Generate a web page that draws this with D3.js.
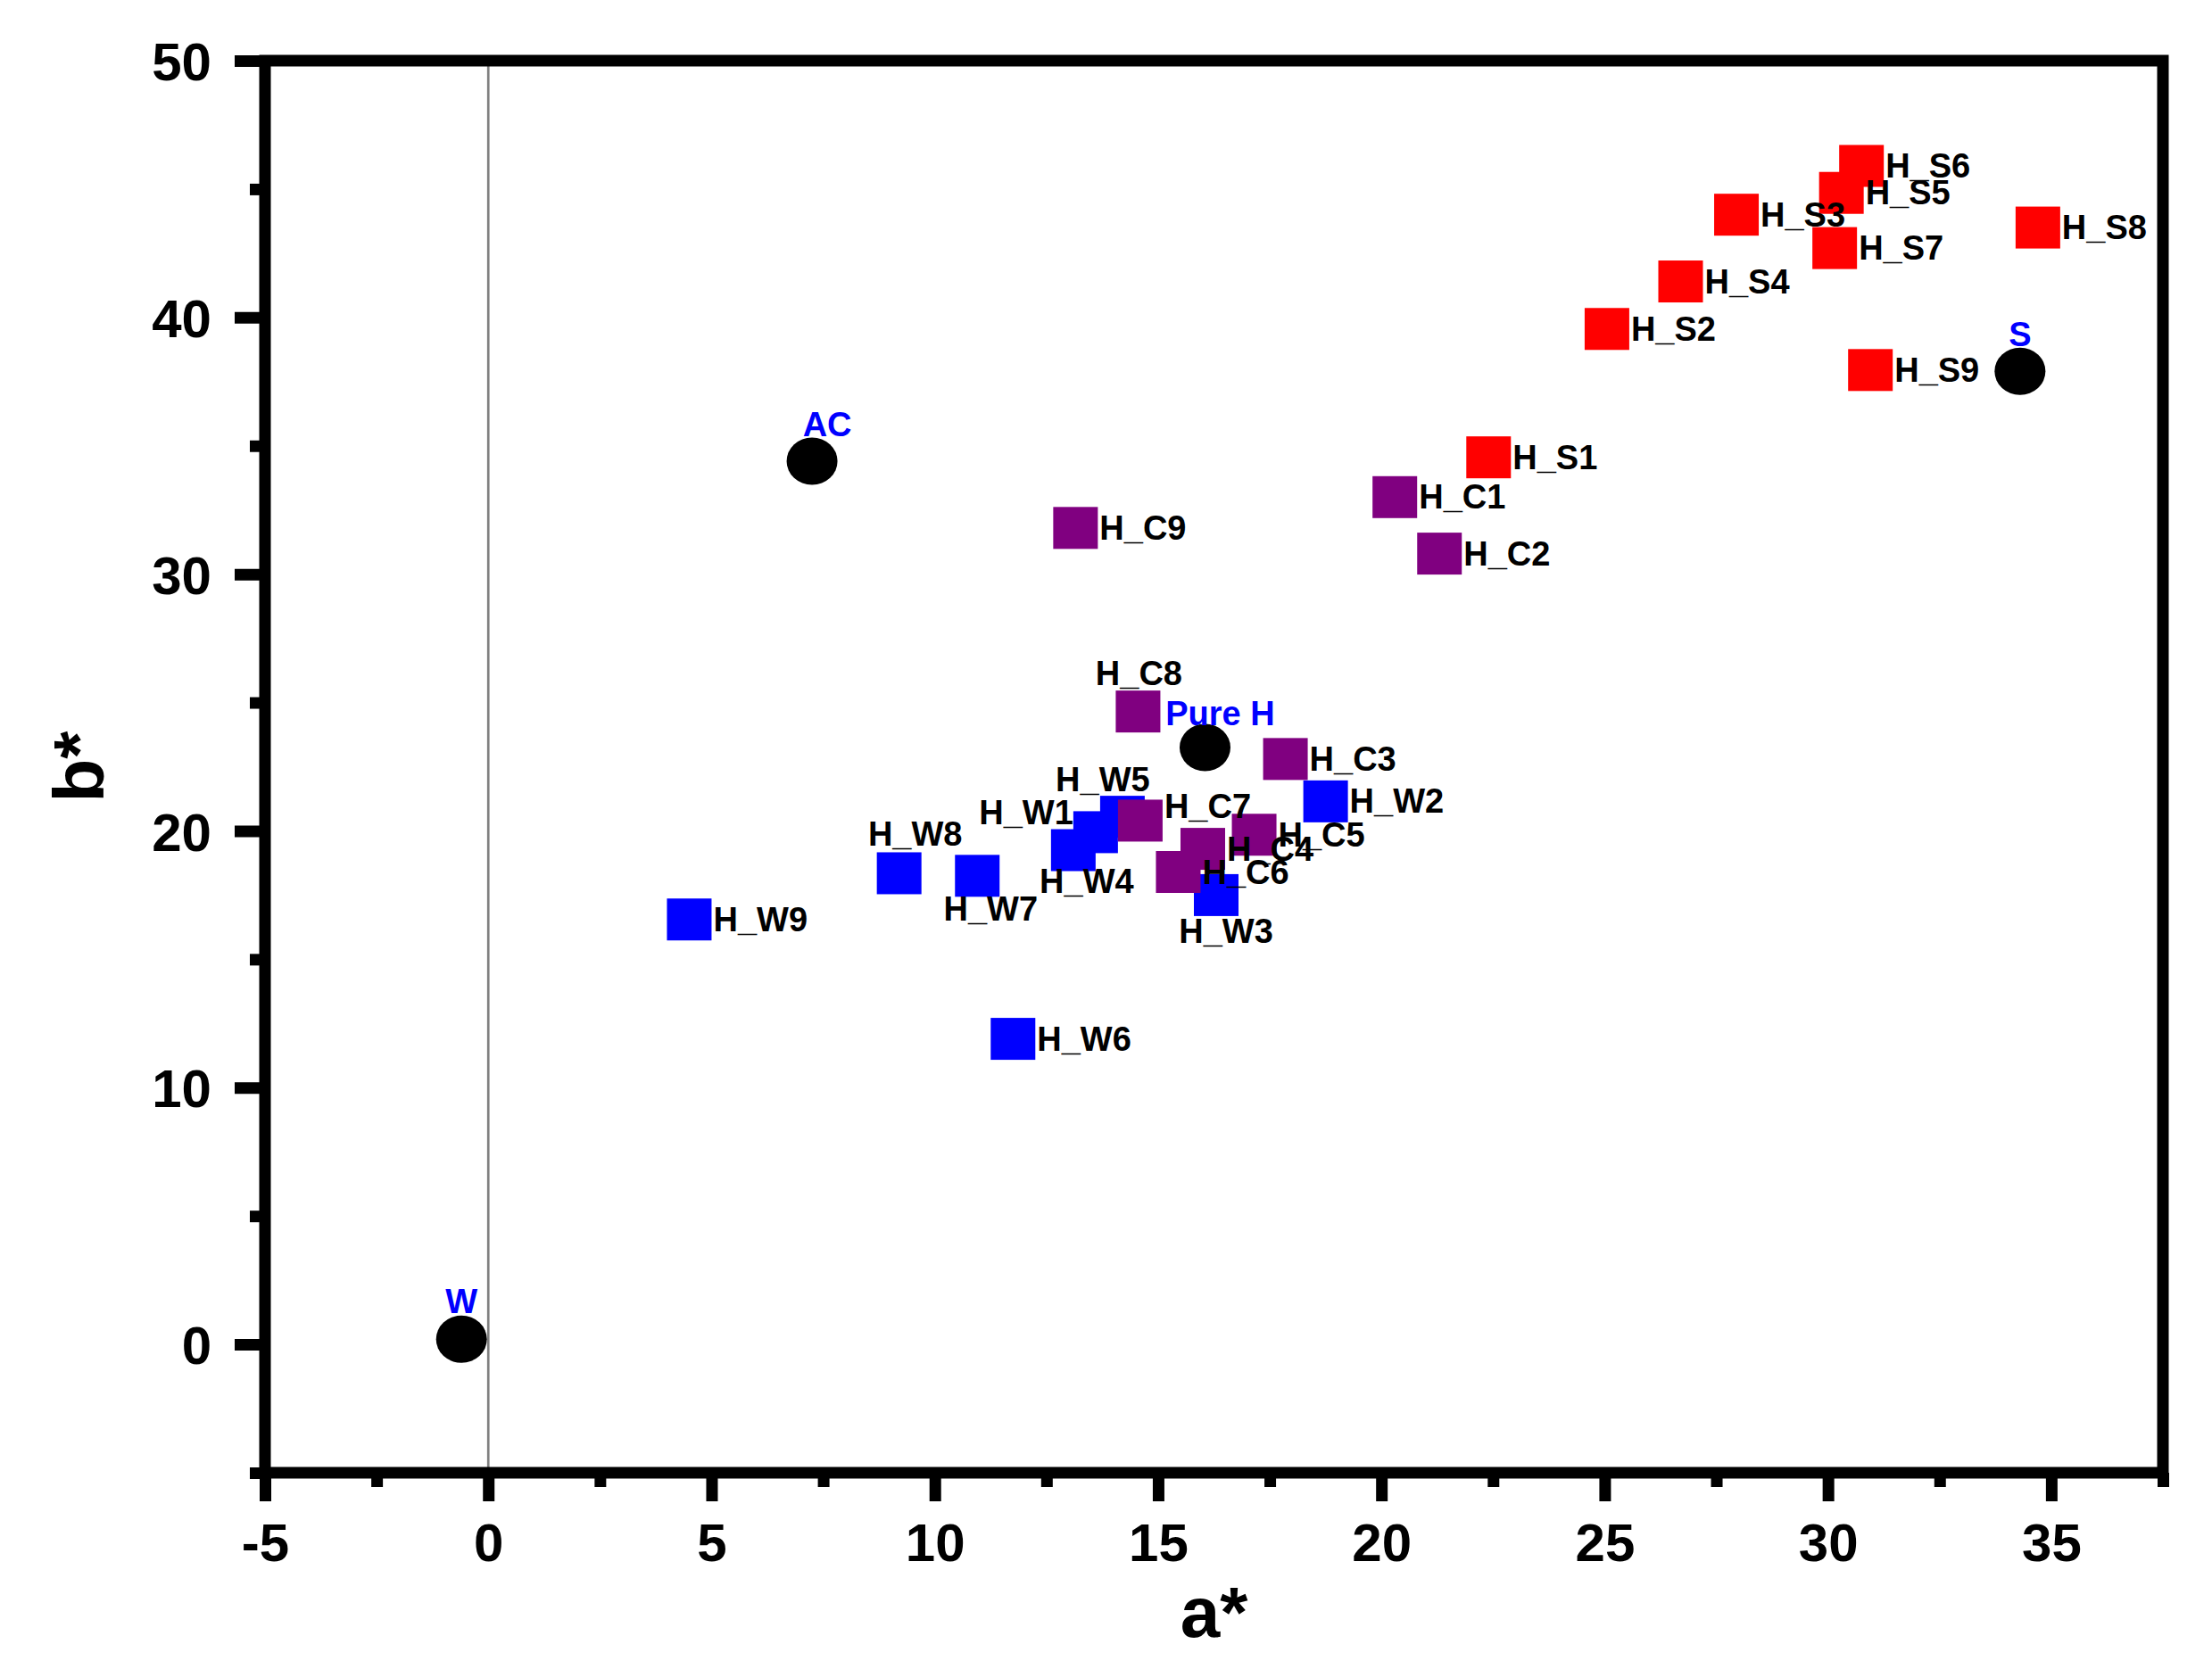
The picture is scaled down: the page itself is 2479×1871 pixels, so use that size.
<!DOCTYPE html>
<html>
<head>
<meta charset="utf-8">
<script src="https://cdn.jsdelivr.net/npm/d3@7"></script>
<style>
  body { margin: 0; background: #fff; }
  text { font-family: "Liberation Sans", Arial, sans-serif; font-weight: bold; }
</style>
</head>
<body>
<div id="chart"></div>
<script>
// Reference samples (black circles)
const refNames = ["W", "AC", "Pure H", "S"];
const refA = [-0.6, 7.25, 16.05, 34.3];
const refB = [0.2, 34.4, 23.25, 37.9];

// H_S series (red)
const sNames = ["H_S1", "H_S2", "H_S3", "H_S4", "H_S5", "H_S6", "H_S7", "H_S8", "H_S9"];
const sA = [22.4, 25.05, 27.95, 26.7, 30.3, 30.75, 30.15, 34.7, 30.95];
const sB = [34.55, 39.55, 44.0, 41.4, 44.85, 45.9, 42.7, 43.5, 37.95];

// H_C series (purple)
const cNames = ["H_C1", "H_C2", "H_C3", "H_C4", "H_C5", "H_C6", "H_C7", "H_C8", "H_C9"];
const cA = [20.3, 21.3, 17.85, 16.0, 17.15, 15.45, 14.6, 14.55, 13.15];
const cB = [33.0, 30.8, 22.8, 19.3, 19.85, 18.4, 20.4, 24.65, 31.8];

// H_W series (blue)
const wNames = ["H_W1", "H_W2", "H_W3", "H_W4", "H_W5", "H_W6", "H_W7", "H_W8", "H_W9"];
const wA = [13.6, 18.75, 16.3, 13.1, 14.2, 11.75, 10.95, 9.2, 4.5];
const wB = [19.95, 21.15, 17.5, 19.25, 20.55, 11.9, 18.25, 18.35, 16.55];

// Axis ticks
const xMajor = [-5, 0, 5, 10, 15, 20, 25, 30, 35];
const xMinor = [-2.5, 2.5, 7.5, 12.5, 17.5, 22.5, 27.5, 32.5, 37.5];
const yMajor = [0, 10, 20, 30, 40, 50];
const yMinor = [-5, 5, 15, 25, 35, 45];

// label placement (anchor, dx, dy from marker centre), default is to the right
const labelPlace = {
	"W": ["middle", 0, -29],
	"AC": ["middle", 17, -28],
	"Pure H": ["middle", 17, -25],
	"S": ["middle", 0, -28],
	"H_C7": ["start", 27, -3],
	"H_C8": ["middle", 1, -30],
	"H_W1": ["end", -25, -9],
	"H_W3": ["middle", 11, 54],
	"H_W4": ["middle", 15, 48],
	"H_W5": ["middle", -22, -29],
	"H_W7": ["middle", 15, 50],
	"H_W8": ["middle", 18, -31]
};

const svgWidth = 2479;
const svgHeight = 1871;
const margin = { top: 68, right: 55, bottom: 220, left: 297 };
const width = svgWidth - margin.left - margin.right;
const height = svgHeight - margin.top - margin.bottom;

const svg = d3.select("#chart")
	.append("svg")
	.attr("width", svgWidth)
	.attr("height", svgHeight);

const chartGroup = svg.append("g")
	.attr("transform", `translate(${margin.left}, ${margin.top})`);

const xScale = d3.scaleLinear().domain([-5, 37.5]).range([0, width]);
const yScale = d3.scaleLinear().domain([-5, 50]).range([height, 0]);

// zero line
chartGroup.append("line")
	.attr("x1", xScale(0)).attr("x2", xScale(0))
	.attr("y1", 0).attr("y2", height)
	.attr("stroke", "#808080")
	.attr("stroke-width", 2.7);

function styleAxis(g) {
	g.select(".domain").remove();
	g.selectAll(".tick line").attr("stroke", "#000").attr("stroke-width", 13);
	g.selectAll("text").attr("fill", "#000").attr("font-size", 60);
}

// plain hyphen for negatives, like the original
const plainFormat = d => String(d);

// x axis
const xMajorAxis = chartGroup.append("g")
	.attr("transform", `translate(0, ${height})`)
	.call(d3.axisBottom(xScale).tickValues(xMajor).tickSizeInner(32).tickSizeOuter(0).tickFormat(plainFormat))
	.call(styleAxis);
xMajorAxis.selectAll("text").attr("y", 99).attr("dy", 0);

chartGroup.append("g")
	.attr("transform", `translate(0, ${height})`)
	.call(d3.axisBottom(xScale).tickValues(xMinor).tickSizeInner(16).tickSizeOuter(0).tickFormat(""))
	.call(styleAxis);

// y axis
const yMajorAxis = chartGroup.append("g")
	.call(d3.axisLeft(yScale).tickValues(yMajor).tickSizeInner(34).tickSizeOuter(0).tickFormat(plainFormat))
	.call(styleAxis);
yMajorAxis.selectAll("text").attr("x", -60).attr("dy", "0.36em");

chartGroup.append("g")
	.call(d3.axisLeft(yScale).tickValues(yMinor).tickSizeInner(17).tickSizeOuter(0).tickFormat(""))
	.call(styleAxis);

// frame
chartGroup.append("rect")
	.attr("x", 0).attr("y", 0)
	.attr("width", width).attr("height", height)
	.attr("fill", "none")
	.attr("stroke", "#000")
	.attr("stroke-width", 13);

// build point lists
const toPoints = (names, a, b) => names.map((n, i) => ({ name: n, a: a[i], b: b[i] }));
const wData = toPoints(wNames, wA, wB);
const cData = toPoints(cNames, cA, cB);
const sData = toPoints(sNames, sA, sB);
const refData = toPoints(refNames, refA, refB);

const sqW = 50, sqH = 47;

function drawSquares(data, color) {
	chartGroup.append("g")
		.selectAll("rect")
		.data(data)
		.enter()
		.append("rect")
		.attr("x", d => xScale(d.a) - sqW / 2)
		.attr("y", d => yScale(d.b) - sqH / 2)
		.attr("width", sqW)
		.attr("height", sqH)
		.attr("fill", color);
}

drawSquares(wData, "#0000FF");
drawSquares(cData, "#800080");
drawSquares(sData, "#FF0000");

chartGroup.append("g")
	.selectAll("ellipse")
	.data(refData)
	.enter()
	.append("ellipse")
	.attr("cx", d => xScale(d.a))
	.attr("cy", d => yScale(d.b))
	.attr("rx", 28.5)
	.attr("ry", 26.5)
	.attr("fill", "#000");

// point labels
function drawLabels(data, color) {
	chartGroup.append("g")
		.selectAll("text")
		.data(data)
		.enter()
		.append("text")
		.text(d => d.name)
		.attr("font-size", 38)
		.attr("fill", color)
		.attr("text-anchor", d => (labelPlace[d.name] || ["start"])[0])
		.attr("x", d => xScale(d.a) + (labelPlace[d.name] || ["start", 27])[1])
		.attr("y", d => yScale(d.b) + (labelPlace[d.name] || ["start", 27, 13])[2]);
}

drawLabels(wData, "#000");
drawLabels(cData, "#000");
drawLabels(sData, "#000");
drawLabels(refData, "#0000FF");

// axis titles
chartGroup.append("text")
	.attr("x", width / 2)
	.attr("y", 1835 - margin.top)
	.attr("text-anchor", "middle")
	.attr("font-size", 80)
	.text("a*");

chartGroup.append("text")
	.attr("transform", "rotate(-90)")
	.attr("x", -height / 2)
	.attr("y", 116 - margin.left)
	.attr("text-anchor", "middle")
	.attr("font-size", 80)
	.text("b*");
</script>
</body>
</html>
